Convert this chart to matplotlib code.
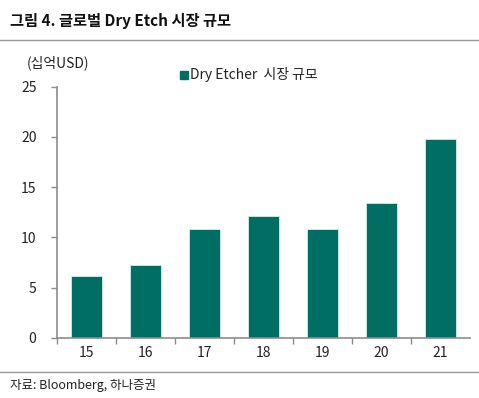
import matplotlib
matplotlib.use("Agg")
import matplotlib.pyplot as plt
from matplotlib.lines import Line2D
from matplotlib.patches import Rectangle
import numpy as np

plt.rcParams['font.family'] = ['Noto Sans CJK KR', 'DejaVu Sans']

categories = ['15', '16', '17', '18', '19', '20', '21']
values = [6.1, 7.2, 10.8, 12.1, 10.8, 13.4, 19.8]
yticks = [0, 5, 10, 15, 20, 25]
title = '그림 4. 글로벌 Dry Etch 시장 규모'
unit = '(십억USD)'
legend_label = 'Dry Etcher  시장 규모'
source = '자료: Bloomberg, 하나증권'

W, H = 479, 398
fig = plt.figure(figsize=(W / 100, H / 100), dpi=100)
bar_color = '#006e62'
axis_color = '#8c8c8c'
text_color = '#222222'

ax = fig.add_axes([57.3 / W, 1 - 337.7 / H, (470 - 57.3) / W, (337.7 - 86.7) / H])
x = np.arange(len(categories))
ax.bar(x, values, width=0.52, color=bar_color, edgecolor='#d8ece9', linewidth=0.6,
       label=legend_label, zorder=2)
ax.set_xlim(-0.5, len(categories) - 0.5)
ax.set_ylim(0, 25)
ax.set_yticks(yticks)
ax.set_yticklabels([str(t) for t in yticks], fontsize=10, color=text_color)
ax.set_xticks(x)
ax.set_xticklabels(categories, fontsize=10, color=text_color)
ax.tick_params(axis='x', which='major', length=0, pad=6)
ax.set_xticks(np.arange(-0.5, len(categories) - 0.5, 1.0), minor=True)
ax.tick_params(axis='x', which='minor', length=4, width=1, color=axis_color, direction='out')
ax.tick_params(axis='y', length=4, width=1, color=axis_color, pad=11, direction='out')
for s in ['top', 'right']:
    ax.spines[s].set_visible(False)
for s in ['left', 'bottom']:
    ax.spines[s].set_color(axis_color)
    ax.spines[s].set_linewidth(1.2)

# Title and rules
fig.text(10 / W, 1 - 21 / H, title, fontsize=11, fontweight='bold', color='#111111',
         ha='left', va='center')
fig.add_artist(Line2D([0, 1], [1 - 39.5 / H, 1 - 39.5 / H], color='#999999', lw=1,
                      transform=fig.transFigure))
fig.add_artist(Line2D([0, 1], [1 - 372 / H, 1 - 372 / H], color='#999999', lw=1,
                      transform=fig.transFigure))
fig.text(10 / W, 1 - 385 / H, source, fontsize=9, color=text_color, ha='left', va='center')
fig.text(27 / W, 1 - 63 / H, unit, fontsize=10, color=text_color, ha='left', va='center')

# Legend
fig.add_artist(Rectangle((180 / W, 1 - 78.5 / H), 7.5 / W, 7.5 / H, color=bar_color,
                         transform=fig.transFigure))
fig.text(190 / W, 1 - 74.5 / H, legend_label, fontsize=10, color=text_color,
         ha='left', va='center')

fig.savefig('out.png', dpi=100)
